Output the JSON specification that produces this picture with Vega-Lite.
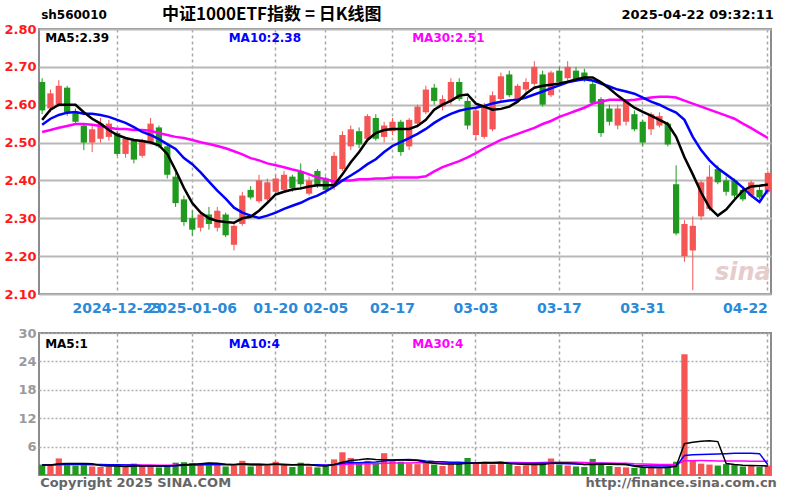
{
  "$schema": "https://vega.github.io/schema/vega-lite/v6.json",
  "background": "#ffffff",
  "padding": {"left": 2, "top": 4, "right": 10, "bottom": 0},
  "spacing": 10,
  "config": {
    "view": {"stroke": "#8c8c8c", "strokeWidth": 2},
    "font": "DejaVu Sans",
    "axis": {"labelOverlap": false, "labelSeparation": 0},
    "axisY": {"minExtent": 36, "maxExtent": 36, "labelOverlap": false}
  },
  "datasets": {
    "k": [
      {"d":"2024-12-10","o":2.66,"h":2.67,"l":2.575,"c":2.585,"v":2.2,"m5":2.56,"m10":2.547,"m30":2.528,"v5":2.12,"v10":2.11,"v30":2.1},
      {"d":"2024-12-11","o":2.59,"h":2.64,"l":2.58,"c":2.63,"v":2.0,"m5":2.587,"m10":2.563,"m30":2.533,"v5":2.1,"v10":2.1,"v30":2.1},
      {"d":"2024-12-12","o":2.6,"h":2.665,"l":2.595,"c":2.65,"v":3.5,"m5":2.6,"m10":2.573,"m30":2.539,"v5":2.38,"v10":2.24,"v30":2.15},
      {"d":"2024-12-13","o":2.645,"h":2.65,"l":2.57,"c":2.58,"v":2.4,"m5":2.6,"m10":2.579,"m30":2.544,"v5":2.44,"v10":2.27,"v30":2.16},
      {"d":"2024-12-16","o":2.58,"h":2.59,"l":2.55,"c":2.555,"v":2.0,"m5":2.6,"m10":2.581,"m30":2.549,"v5":2.42,"v10":2.26,"v30":2.15},
      {"d":"2024-12-17","o":2.545,"h":2.55,"l":2.48,"c":2.5,"v":2.2,"m5":2.58,"m10":2.576,"m30":2.549,"v5":2.42,"v10":2.27,"v30":2.16},
      {"d":"2024-12-18","o":2.5,"h":2.545,"l":2.475,"c":2.535,"v":1.8,"m5":2.563,"m10":2.576,"m30":2.547,"v5":2.38,"v10":2.24,"v30":2.15},
      {"d":"2024-12-19","o":2.51,"h":2.565,"l":2.5,"c":2.55,"v":1.7,"m5":2.55,"m10":2.573,"m30":2.544,"v5":2.02,"v10":2.2,"v30":2.13},
      {"d":"2024-12-20","o":2.515,"h":2.56,"l":2.505,"c":2.55,"v":1.8,"m5":2.533,"m10":2.568,"m30":2.539,"v5":1.9,"v10":2.17,"v30":2.12},
      {"d":"2024-12-23","o":2.525,"h":2.53,"l":2.465,"c":2.47,"v":1.9,"m5":2.52,"m10":2.56,"m30":2.536,"v5":1.88,"v10":2.15,"v30":2.12},
      {"d":"2024-12-24","o":2.47,"h":2.515,"l":2.46,"c":2.51,"v":1.6,"m5":2.512,"m10":2.552,"m30":2.536,"v5":1.76,"v10":2.09,"v30":2.1},
      {"d":"2024-12-25","o":2.505,"h":2.51,"l":2.445,"c":2.455,"v":2.4,"m5":2.507,"m10":2.541,"m30":2.533,"v5":1.88,"v10":2.13,"v30":2.11},
      {"d":"2024-12-26","o":2.465,"h":2.51,"l":2.46,"c":2.505,"v":1.9,"m5":2.504,"m10":2.528,"m30":2.533,"v5":1.92,"v10":1.97,"v30":2.1},
      {"d":"2024-12-27","o":2.5,"h":2.565,"l":2.495,"c":2.55,"v":2.0,"m5":2.5,"m10":2.52,"m30":2.531,"v5":1.96,"v10":1.93,"v30":2.1},
      {"d":"2024-12-30","o":2.54,"h":2.545,"l":2.485,"c":2.49,"v":1.6,"m5":2.493,"m10":2.509,"m30":2.525,"v5":1.9,"v10":1.89,"v30":2.08},
      {"d":"2024-12-31","o":2.49,"h":2.495,"l":2.405,"c":2.415,"v":2.0,"m5":2.47,"m10":2.496,"m30":2.52,"v5":1.98,"v10":1.87,"v30":2.08},
      {"d":"2025-01-02","o":2.41,"h":2.42,"l":2.33,"c":2.34,"v":2.6,"m5":2.427,"m10":2.483,"m30":2.515,"v5":2.02,"v10":1.95,"v30":2.1},
      {"d":"2025-01-03","o":2.35,"h":2.36,"l":2.28,"c":2.29,"v":2.7,"m5":2.38,"m10":2.459,"m30":2.512,"v5":2.18,"v10":2.05,"v30":2.12},
      {"d":"2025-01-06","o":2.3,"h":2.32,"l":2.255,"c":2.27,"v":2.5,"m5":2.34,"m10":2.443,"m30":2.507,"v5":2.28,"v10":2.12,"v30":2.13},
      {"d":"2025-01-07","o":2.275,"h":2.32,"l":2.265,"c":2.31,"v":2.2,"m5":2.315,"m10":2.421,"m30":2.501,"v5":2.4,"v10":2.15,"v30":2.13},
      {"d":"2025-01-08","o":2.31,"h":2.33,"l":2.27,"c":2.285,"v":2.6,"m5":2.3,"m10":2.397,"m30":2.496,"v5":2.52,"v10":2.25,"v30":2.15},
      {"d":"2025-01-09","o":2.275,"h":2.33,"l":2.265,"c":2.32,"v":2.3,"m5":2.293,"m10":2.373,"m30":2.491,"v5":2.46,"v10":2.24,"v30":2.16},
      {"d":"2025-01-10","o":2.31,"h":2.315,"l":2.25,"c":2.255,"v":1.8,"m5":2.29,"m10":2.352,"m30":2.485,"v5":2.28,"v10":2.23,"v30":2.15},
      {"d":"2025-01-13","o":2.23,"h":2.285,"l":2.215,"c":2.28,"v":2.0,"m5":2.288,"m10":2.328,"m30":2.477,"v5":2.18,"v10":2.23,"v30":2.14},
      {"d":"2025-01-14","o":2.285,"h":2.37,"l":2.28,"c":2.36,"v":3.0,"m5":2.3,"m10":2.315,"m30":2.469,"v5":2.34,"v10":2.37,"v30":2.17},
      {"d":"2025-01-15","o":2.375,"h":2.385,"l":2.35,"c":2.355,"v":1.8,"m5":2.304,"m10":2.307,"m30":2.459,"v5":2.18,"v10":2.35,"v30":2.16},
      {"d":"2025-01-16","o":2.345,"h":2.415,"l":2.34,"c":2.4,"v":2.1,"m5":2.32,"m10":2.301,"m30":2.453,"v5":2.14,"v10":2.3,"v30":2.16},
      {"d":"2025-01-17","o":2.35,"h":2.405,"l":2.345,"c":2.395,"v":1.9,"m5":2.341,"m10":2.307,"m30":2.445,"v5":2.16,"v10":2.22,"v30":2.16},
      {"d":"2025-01-20","o":2.37,"h":2.415,"l":2.365,"c":2.405,"v":2.8,"m5":2.363,"m10":2.315,"m30":2.44,"v5":2.32,"v10":2.25,"v30":2.18},
      {"d":"2025-01-21","o":2.375,"h":2.425,"l":2.37,"c":2.415,"v":2.2,"m5":2.37,"m10":2.325,"m30":2.435,"v5":2.16,"v10":2.25,"v30":2.18},
      {"d":"2025-01-22","o":2.41,"h":2.415,"l":2.37,"c":2.38,"v":1.7,"m5":2.376,"m10":2.333,"m30":2.429,"v5":2.14,"v10":2.16,"v30":2.17},
      {"d":"2025-01-23","o":2.425,"h":2.445,"l":2.375,"c":2.39,"v":2.6,"m5":2.379,"m10":2.341,"m30":2.424,"v5":2.24,"v10":2.19,"v30":2.19},
      {"d":"2025-01-24","o":2.365,"h":2.41,"l":2.36,"c":2.4,"v":1.8,"m5":2.384,"m10":2.352,"m30":2.416,"v5":2.22,"v10":2.19,"v30":2.13},
      {"d":"2025-01-27","o":2.425,"h":2.43,"l":2.38,"c":2.385,"v":1.6,"m5":2.387,"m10":2.36,"m30":2.408,"v5":1.98,"v10":2.15,"v30":2.1},
      {"d":"2025-02-05","o":2.405,"h":2.41,"l":2.365,"c":2.375,"v":1.9,"m5":2.387,"m10":2.371,"m30":2.403,"v5":1.92,"v10":2.04,"v30":2.1},
      {"d":"2025-02-06","o":2.385,"h":2.475,"l":2.375,"c":2.465,"v":3.3,"m5":2.387,"m10":2.384,"m30":2.397,"v5":2.24,"v10":2.19,"v30":2.14},
      {"d":"2025-02-07","o":2.43,"h":2.53,"l":2.425,"c":2.52,"v":4.8,"m5":2.416,"m10":2.4,"m30":2.4,"v5":2.68,"v10":2.46,"v30":2.24},
      {"d":"2025-02-10","o":2.49,"h":2.545,"l":2.48,"c":2.535,"v":3.6,"m5":2.448,"m10":2.413,"m30":2.4,"v5":3.04,"v10":2.63,"v30":2.3},
      {"d":"2025-02-11","o":2.53,"h":2.54,"l":2.485,"c":2.495,"v":2.4,"m5":2.475,"m10":2.427,"m30":2.403,"v5":3.2,"v10":2.59,"v30":2.32},
      {"d":"2025-02-12","o":2.51,"h":2.575,"l":2.505,"c":2.57,"v":3.0,"m5":2.507,"m10":2.443,"m30":2.403,"v5":3.42,"v10":2.67,"v30":2.36},
      {"d":"2025-02-13","o":2.565,"h":2.575,"l":2.505,"c":2.51,"v":2.6,"m5":2.525,"m10":2.456,"m30":2.405,"v5":3.28,"v10":2.76,"v30":2.39},
      {"d":"2025-02-14","o":2.515,"h":2.555,"l":2.5,"c":2.545,"v":4.6,"m5":2.533,"m10":2.475,"m30":2.405,"v5":3.24,"v10":2.96,"v30":2.46},
      {"d":"2025-02-17","o":2.53,"h":2.565,"l":2.52,"c":2.555,"v":3.2,"m5":2.536,"m10":2.491,"m30":2.408,"v5":3.16,"v10":3.1,"v30":2.51},
      {"d":"2025-02-18","o":2.555,"h":2.56,"l":2.465,"c":2.475,"v":2.8,"m5":2.536,"m10":2.501,"m30":2.408,"v5":3.24,"v10":3.22,"v30":2.53},
      {"d":"2025-02-19","o":2.49,"h":2.565,"l":2.48,"c":2.56,"v":2.4,"m5":2.536,"m10":2.512,"m30":2.408,"v5":3.12,"v10":3.27,"v30":2.56},
      {"d":"2025-02-20","o":2.55,"h":2.6,"l":2.54,"c":2.595,"v":2.3,"m5":2.544,"m10":2.523,"m30":2.408,"v5":3.06,"v10":3.17,"v30":2.57},
      {"d":"2025-02-21","o":2.58,"h":2.65,"l":2.575,"c":2.64,"v":2.8,"m5":2.56,"m10":2.536,"m30":2.411,"v5":2.7,"v10":2.97,"v30":2.58},
      {"d":"2025-02-24","o":2.645,"h":2.655,"l":2.6,"c":2.61,"v":2.2,"m5":2.587,"m10":2.552,"m30":2.424,"v5":2.5,"v10":2.83,"v30":2.56},
      {"d":"2025-02-25","o":2.595,"h":2.625,"l":2.585,"c":2.615,"v":1.9,"m5":2.6,"m10":2.565,"m30":2.435,"v5":2.32,"v10":2.78,"v30":2.54},
      {"d":"2025-02-26","o":2.61,"h":2.67,"l":2.6,"c":2.66,"v":2.3,"m5":2.61,"m10":2.576,"m30":2.443,"v5":2.3,"v10":2.71,"v30":2.54},
      {"d":"2025-02-27","o":2.66,"h":2.67,"l":2.61,"c":2.615,"v":2.4,"m5":2.624,"m10":2.584,"m30":2.451,"v5":2.32,"v10":2.69,"v30":2.54},
      {"d":"2025-02-28","o":2.61,"h":2.62,"l":2.535,"c":2.545,"v":3.6,"m5":2.627,"m10":2.589,"m30":2.461,"v5":2.48,"v10":2.59,"v30":2.58},
      {"d":"2025-03-03","o":2.52,"h":2.59,"l":2.505,"c":2.585,"v":2.6,"m5":2.603,"m10":2.592,"m30":2.472,"v5":2.56,"v10":2.53,"v30":2.61},
      {"d":"2025-03-04","o":2.515,"h":2.605,"l":2.51,"c":2.6,"v":2.3,"m5":2.595,"m10":2.597,"m30":2.485,"v5":2.64,"v10":2.48,"v30":2.62},
      {"d":"2025-03-05","o":2.535,"h":2.635,"l":2.53,"c":2.625,"v":2.2,"m5":2.587,"m10":2.603,"m30":2.496,"v5":2.62,"v10":2.46,"v30":2.59},
      {"d":"2025-03-06","o":2.615,"h":2.685,"l":2.61,"c":2.675,"v":2.8,"m5":2.589,"m10":2.608,"m30":2.507,"v5":2.7,"v10":2.51,"v30":2.62},
      {"d":"2025-03-07","o":2.68,"h":2.69,"l":2.62,"c":2.625,"v":2.3,"m5":2.595,"m10":2.611,"m30":2.515,"v5":2.44,"v10":2.46,"v30":2.63},
      {"d":"2025-03-10","o":2.615,"h":2.655,"l":2.605,"c":2.65,"v":1.9,"m5":2.608,"m10":2.613,"m30":2.523,"v5":2.3,"v10":2.43,"v30":2.63},
      {"d":"2025-03-11","o":2.64,"h":2.67,"l":2.63,"c":2.66,"v":2.0,"m5":2.629,"m10":2.619,"m30":2.531,"v5":2.24,"v10":2.44,"v30":2.6},
      {"d":"2025-03-12","o":2.655,"h":2.715,"l":2.65,"c":2.7,"v":2.4,"m5":2.645,"m10":2.627,"m30":2.539,"v5":2.28,"v10":2.45,"v30":2.61},
      {"d":"2025-03-13","o":2.68,"h":2.69,"l":2.595,"c":2.6,"v":2.6,"m5":2.65,"m10":2.635,"m30":2.549,"v5":2.24,"v10":2.47,"v30":2.64},
      {"d":"2025-03-14","o":2.625,"h":2.69,"l":2.62,"c":2.685,"v":3.5,"m5":2.653,"m10":2.643,"m30":2.557,"v5":2.48,"v10":2.46,"v30":2.67},
      {"d":"2025-03-17","o":2.69,"h":2.7,"l":2.655,"c":2.66,"v":2.2,"m5":2.656,"m10":2.651,"m30":2.568,"v5":2.54,"v10":2.42,"v30":2.68},
      {"d":"2025-03-18","o":2.67,"h":2.715,"l":2.66,"c":2.7,"v":2.0,"m5":2.661,"m10":2.659,"m30":2.576,"v5":2.54,"v10":2.39,"v30":2.7},
      {"d":"2025-03-19","o":2.69,"h":2.7,"l":2.66,"c":2.665,"v":1.8,"m5":2.667,"m10":2.664,"m30":2.584,"v5":2.42,"v10":2.35,"v30":2.69},
      {"d":"2025-03-20","o":2.685,"h":2.695,"l":2.66,"c":2.665,"v":1.7,"m5":2.672,"m10":2.667,"m30":2.592,"v5":2.24,"v10":2.24,"v30":2.64},
      {"d":"2025-03-21","o":2.655,"h":2.665,"l":2.6,"c":2.605,"v":3.4,"m5":2.672,"m10":2.664,"m30":2.603,"v5":2.22,"v10":2.35,"v30":2.59},
      {"d":"2025-03-24","o":2.615,"h":2.62,"l":2.515,"c":2.525,"v":2.5,"m5":2.659,"m10":2.656,"m30":2.608,"v5":2.28,"v10":2.41,"v30":2.56},
      {"d":"2025-03-25","o":2.59,"h":2.6,"l":2.545,"c":2.555,"v":1.9,"m5":2.643,"m10":2.648,"m30":2.613,"v5":2.26,"v10":2.4,"v30":2.54},
      {"d":"2025-03-26","o":2.545,"h":2.6,"l":2.535,"c":2.59,"v":1.7,"m5":2.624,"m10":2.64,"m30":2.613,"v5":2.24,"v10":2.33,"v30":2.5},
      {"d":"2025-03-27","o":2.555,"h":2.615,"l":2.545,"c":2.61,"v":1.6,"m5":2.608,"m10":2.635,"m30":2.611,"v5":2.22,"v10":2.23,"v30":2.46},
      {"d":"2025-03-28","o":2.575,"h":2.585,"l":2.53,"c":2.535,"v":1.5,"m5":2.592,"m10":2.629,"m30":2.613,"v5":1.84,"v10":2.03,"v30":2.36},
      {"d":"2025-03-31","o":2.555,"h":2.56,"l":2.49,"c":2.5,"v":1.6,"m5":2.581,"m10":2.619,"m30":2.616,"v5":1.66,"v10":1.97,"v30":2.31},
      {"d":"2025-04-01","o":2.535,"h":2.58,"l":2.52,"c":2.575,"v":1.5,"m5":2.571,"m10":2.608,"m30":2.619,"v5":1.58,"v10":1.92,"v30":2.26},
      {"d":"2025-04-02","o":2.545,"h":2.58,"l":2.54,"c":2.57,"v":1.4,"m5":2.56,"m10":2.6,"m30":2.621,"v5":1.52,"v10":1.88,"v30":2.23},
      {"d":"2025-04-03","o":2.55,"h":2.555,"l":2.49,"c":2.495,"v":1.8,"m5":2.549,"m10":2.589,"m30":2.621,"v5":1.56,"v10":1.89,"v30":2.21},
      {"d":"2025-04-07","o":2.39,"h":2.44,"l":2.255,"c":2.26,"v":2.8,"m5":2.515,"m10":2.579,"m30":2.619,"v5":1.82,"v10":1.83,"v30":2.21},
      {"d":"2025-04-08","o":2.2,"h":2.295,"l":2.185,"c":2.285,"v":25.5,"m5":2.461,"m10":2.56,"m30":2.611,"v5":6.6,"v10":4.13,"v30":2.99},
      {"d":"2025-04-09","o":2.215,"h":2.305,"l":2.11,"c":2.28,"v":3.2,"m5":2.416,"m10":2.515,"m30":2.603,"v5":6.94,"v10":4.26,"v30":3.03},
      {"d":"2025-04-10","o":2.305,"h":2.4,"l":2.295,"c":2.395,"v":2.4,"m5":2.368,"m10":2.48,"m30":2.595,"v5":7.14,"v10":4.33,"v30":3.04},
      {"d":"2025-04-11","o":2.325,"h":2.44,"l":2.32,"c":2.41,"v":2.2,"m5":2.328,"m10":2.453,"m30":2.587,"v5":7.22,"v10":4.39,"v30":3.03},
      {"d":"2025-04-14","o":2.43,"h":2.44,"l":2.39,"c":2.395,"v":2.0,"m5":2.307,"m10":2.432,"m30":2.579,"v5":7.06,"v10":4.44,"v30":2.98},
      {"d":"2025-04-15","o":2.4,"h":2.41,"l":2.36,"c":2.37,"v":2.3,"m5":2.323,"m10":2.416,"m30":2.571,"v5":2.42,"v10":4.51,"v30":2.97},
      {"d":"2025-04-16","o":2.4,"h":2.405,"l":2.35,"c":2.36,"v":2.1,"m5":2.349,"m10":2.4,"m30":2.563,"v5":2.2,"v10":4.57,"v30":2.96},
      {"d":"2025-04-17","o":2.375,"h":2.385,"l":2.345,"c":2.35,"v":1.8,"m5":2.373,"m10":2.381,"m30":2.55,"v5":2.08,"v10":4.61,"v30":2.95},
      {"d":"2025-04-18","o":2.36,"h":2.4,"l":2.355,"c":2.395,"v":1.9,"m5":2.384,"m10":2.36,"m30":2.538,"v5":2.02,"v10":4.62,"v30":2.92},
      {"d":"2025-04-21","o":2.375,"h":2.385,"l":2.35,"c":2.355,"v":1.7,"m5":2.386,"m10":2.343,"m30":2.525,"v5":1.96,"v10":4.51,"v30":2.9},
      {"d":"2025-04-22","o":2.37,"h":2.425,"l":2.365,"c":2.42,"v":2.0,"m5":2.389,"m10":2.375,"m30":2.512,"v5":1.9,"v10":2.16,"v30":2.9}
    ]
  },
  "vconcat": [
    {
      "width": 732,
      "height": 265,
      "data": {"name": "k"},
      "encoding": {
        "x": {
          "field": "d", "type": "ordinal",
          "scale": {"paddingInner": 0.25, "paddingOuter": 0},
          "axis": {
            "title": null,
            "values": ["2024-12-23","2025-01-06","2025-01-20","2025-02-05","2025-02-17","2025-03-03","2025-03-17","2025-03-31","2025-04-22"],
            "labelExpr": "indexof(['2024-12-23','2025-01-06'], datum.value) >= 0 ? datum.value : slice(datum.value, 5)",
            "labelAngle": 0, "labelColor": "#2b8ad8", "labelFontSize": 14, "labelFontWeight": "bold",
            "labelPadding": 7, "labelOverlap": false, "labelBound": false, "labelFlush": 10,
            "ticks": false, "domain": false,
            "grid": true, "gridDash": [3, 3], "gridColor": "#a8a8a8", "gridWidth": 1.5,
            "bandPosition": 0.5
          }
        },
        "y": {
          "field": "l", "type": "quantitative",
          "scale": {"domain": [2.1, 2.8], "nice": false, "zero": false},
          "axis": {
            "title": null, "values": [2.1, 2.2, 2.3, 2.4, 2.5, 2.6, 2.7, 2.8], "format": ".2f",
            "labelColor": "#ff1a1a", "labelFontSize": 13, "labelFontWeight": "bold", "labelPadding": 3,
            "labelOverlap": false, "labelBound": false,
            "ticks": false, "domain": false, "gridColor": "#b8b8b8", "gridWidth": 2
          }
        }
      },
      "layer": [
        {
          "mark": {"type": "rule", "strokeWidth": 1},
          "encoding": {
            "y2": {"field": "h"},
            "color": {"condition": {"test": "datum.c >= datum.o", "value": "#f45555"}, "value": "#1f9a1f"}
          }
        },
        {
          "mark": {"type": "bar"},
          "encoding": {
            "y": {"field": "o", "type": "quantitative"},
            "y2": {"field": "c"},
            "color": {"condition": {"test": "datum.c >= datum.o", "value": "#f45555"}, "value": "#1f9a1f"}
          }
        },
        {"mark": {"type": "line", "color": "#ff00ff", "strokeWidth": 2.5}, "encoding": {"y": {"field": "m30", "type": "quantitative"}}},
        {"mark": {"type": "line", "color": "#0000ff", "strokeWidth": 2.5}, "encoding": {"y": {"field": "m10", "type": "quantitative"}}},
        {"mark": {"type": "line", "color": "#000000", "strokeWidth": 2.5}, "encoding": {"y": {"field": "m5", "type": "quantitative"}}},
        {
          "data": {"values": [
            {"d": "2024-12-10", "s": "MA5", "t": "MA5:2.39", "p": 2.776},
            {"d": "2025-01-10", "s": "MA10", "t": "MA10:2.38", "p": 2.776},
            {"d": "2025-02-19", "s": "MA30", "t": "MA30:2.51", "p": 2.776}
          ]},
          "mark": {"type": "text", "align": "left", "baseline": "middle", "dx": 3, "fontSize": 12, "fontWeight": "bold"},
          "encoding": {
            "y": {"field": "p", "type": "quantitative"},
            "text": {"field": "t"},
            "color": {"field": "s", "type": "nominal", "scale": {"domain": ["MA5", "MA10", "MA30"], "range": ["#000000", "#0000ff", "#ff00ff"]}, "legend": null}
          }
        },
        {
          "data": {"values": [{"d": "2024-12-10", "t": "sh560010", "p": 2.837}]},
          "mark": {"type": "text", "align": "left", "baseline": "middle", "dx": -1, "fontSize": 12, "fontWeight": "bold", "color": "#000000"},
          "encoding": {"y": {"field": "p", "type": "quantitative"}, "text": {"field": "t"}}
        },
        {
          "data": {"values": [{"d": "2025-01-20", "t": "中证1000ETF指数 = 日K线图", "p": 2.837}]},
          "mark": {"type": "text", "align": "center", "baseline": "middle", "dx": -4, "fontSize": 17, "fontWeight": "bold", "font": "Noto Sans CJK SC", "color": "#000000"},
          "encoding": {"y": {"field": "p", "type": "quantitative"}, "text": {"field": "t"}}
        },
        {
          "data": {"values": [{"d": "2025-04-22", "t": "2025-04-22 09:32:11", "p": 2.837}]},
          "mark": {"type": "text", "align": "right", "baseline": "middle", "dx": 6, "fontSize": 13, "fontWeight": "bold", "color": "#000000"},
          "encoding": {"y": {"field": "p", "type": "quantitative"}, "text": {"field": "t"}}
        },
        {
          "data": {"values": [{"d": "2025-04-17", "t": "sina", "p": 2.155}]},
          "mark": {"type": "text", "align": "center", "baseline": "middle", "fontSize": 24, "fontWeight": "bold", "fontStyle": "italic", "color": "#e6cccc"},
          "encoding": {"y": {"field": "p", "type": "quantitative"}, "text": {"field": "t"}}
        }
      ]
    },
    {
      "width": 732,
      "height": 142,
      "data": {"name": "k"},
      "encoding": {
        "x": {
          "field": "d", "type": "ordinal",
          "scale": {"paddingInner": 0.25, "paddingOuter": 0},
          "axis": {
            "title": null,
            "values": ["2024-12-23","2025-01-06","2025-01-20","2025-02-05","2025-02-17","2025-03-03","2025-03-17","2025-03-31","2025-04-22"],
            "labels": false, "ticks": false, "domain": false,
            "grid": true, "gridDash": [3, 3], "gridColor": "#a8a8a8", "gridWidth": 1.5,
            "bandPosition": 0.5
          }
        },
        "y": {
          "field": "v", "type": "quantitative",
          "scale": {"domain": [0, 30], "nice": false},
          "axis": {
            "title": null, "values": [6, 12, 18, 24, 30],
            "labelColor": "#9a9a9a", "labelFontSize": 13, "labelFontWeight": "bold", "labelPadding": 3,
            "labelOverlap": false, "labelBound": false,
            "ticks": false, "domain": false, "gridColor": "#b0b0b0", "gridDash": [2, 2], "gridWidth": 1.5
          }
        }
      },
      "layer": [
        {
          "mark": {"type": "bar"},
          "encoding": {
            "color": {"condition": {"test": "datum.c >= datum.o", "value": "#f45555"}, "value": "#1f9a1f"}
          }
        },
        {"mark": {"type": "line", "color": "#ff00ff", "strokeWidth": 1.5}, "encoding": {"y": {"field": "v30", "type": "quantitative"}}},
        {"mark": {"type": "line", "color": "#0000ff", "strokeWidth": 1.5}, "encoding": {"y": {"field": "v10", "type": "quantitative"}}},
        {"mark": {"type": "line", "color": "#000000", "strokeWidth": 1.5}, "encoding": {"y": {"field": "v5", "type": "quantitative"}}},
        {
          "data": {"values": [
            {"d": "2024-12-10", "s": "MA5", "t": "MA5:1", "p": 27.6},
            {"d": "2025-01-10", "s": "MA10", "t": "MA10:4", "p": 27.6},
            {"d": "2025-02-19", "s": "MA30", "t": "MA30:4", "p": 27.6}
          ]},
          "mark": {"type": "text", "align": "left", "baseline": "middle", "dx": 3, "fontSize": 12, "fontWeight": "bold"},
          "encoding": {
            "y": {"field": "p", "type": "quantitative"},
            "text": {"field": "t"},
            "color": {"field": "s", "type": "nominal", "scale": {"domain": ["MA5", "MA10", "MA30"], "range": ["#000000", "#0000ff", "#ff00ff"]}, "legend": null}
          }
        },
        {
          "data": {"values": [{"d": "2024-12-10", "t": "Copyright 2025 SINA.COM", "p": -1.7}]},
          "mark": {"type": "text", "align": "left", "baseline": "middle", "dx": -2, "fontSize": 13, "fontWeight": "bold", "color": "#666666"},
          "encoding": {"y": {"field": "p", "type": "quantitative"}, "text": {"field": "t"}}
        },
        {
          "data": {"values": [{"d": "2025-04-22", "t": "http://finance.sina.com.cn", "p": -1.7}]},
          "mark": {"type": "text", "align": "right", "baseline": "middle", "dx": 9, "fontSize": 13, "fontWeight": "bold", "color": "#666666"},
          "encoding": {"y": {"field": "p", "type": "quantitative"}, "text": {"field": "t"}}
        }
      ]
    }
  ]
}
